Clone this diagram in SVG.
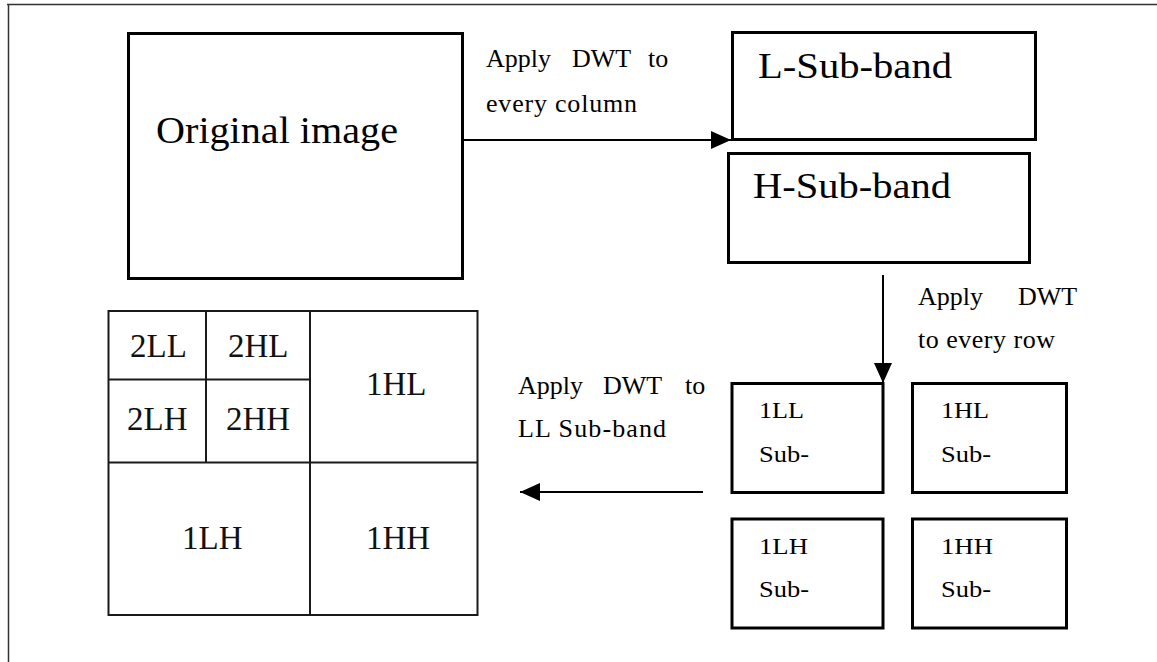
<svg xmlns="http://www.w3.org/2000/svg" width="1157" height="662" viewBox="0 0 1157 662" font-family="'Liberation Serif', 'Times New Roman', Times, serif">
  <style>
    .box { fill: #fff; stroke: #000; stroke-width: 3; }
    .grid { fill: none; stroke: #1a1a1a; stroke-width: 2; }
    .frame { fill: none; stroke: #333; stroke-width: 1.5; }
    .conn { fill: none; stroke: #000; stroke-width: 2; }
    text { fill: #000; }
    .lbl { font-size: 26px; }
    .big { font-size: 38px; }
    .sub { font-size: 36px; }
    .small { font-size: 24px; }
    .gt { font-size: 33px; fill: #111; }
  </style>
  <defs>
    <marker id="arrow" viewBox="0 0 20 18" refX="20" refY="9" markerWidth="20" markerHeight="18" markerUnits="userSpaceOnUse" orient="auto">
      <path d="M0,0 L20,9 L0,18 z" fill="#000"/>
    </marker>
  </defs>

  <g id="frame">
    <path class="frame" d="M7,4.5 H1157 M8.5,4 V662"/>
  </g>

  <g id="original-image">
    <rect class="box" x="128.5" y="33.5" width="334" height="245"/>
    <text class="big" x="156" y="143" textLength="242" lengthAdjust="spacingAndGlyphs">Original image</text>
  </g>

  <g id="l-subband">
    <rect class="box" x="732.5" y="32.5" width="303" height="107"/>
    <text class="sub" x="758" y="78" textLength="194" lengthAdjust="spacingAndGlyphs">L-Sub-band</text>
  </g>

  <g id="h-subband">
    <rect class="box" x="728.5" y="153.5" width="301" height="109"/>
    <text class="sub" x="753" y="198" textLength="198" lengthAdjust="spacingAndGlyphs">H-Sub-band</text>
  </g>

  <g id="sb-1ll">
    <rect class="box" x="732" y="383.5" width="151" height="109"/>
    <text class="small" x="759" y="418" textLength="45" lengthAdjust="spacingAndGlyphs">1LL</text>
    <text class="small" x="759" y="462" textLength="50" lengthAdjust="spacingAndGlyphs">Sub-</text>
  </g>
  <g id="sb-1hl">
    <rect class="box" x="912.5" y="383.5" width="154" height="109"/>
    <text class="small" x="941" y="418" textLength="48" lengthAdjust="spacingAndGlyphs">1HL</text>
    <text class="small" x="941" y="462" textLength="50" lengthAdjust="spacingAndGlyphs">Sub-</text>
  </g>
  <g id="sb-1lh">
    <rect class="box" x="732" y="519" width="151" height="109"/>
    <text class="small" x="759" y="554" textLength="49" lengthAdjust="spacingAndGlyphs">1LH</text>
    <text class="small" x="759" y="597" textLength="50" lengthAdjust="spacingAndGlyphs">Sub-</text>
  </g>
  <g id="sb-1hh">
    <rect class="box" x="912.5" y="519" width="154" height="109"/>
    <text class="small" x="941" y="554" textLength="52" lengthAdjust="spacingAndGlyphs">1HH</text>
    <text class="small" x="941" y="597" textLength="50" lengthAdjust="spacingAndGlyphs">Sub-</text>
  </g>

  <g id="level2-grid">
    <rect class="grid" x="108.5" y="311" width="369" height="304"/>
    <path class="grid" d="M310,311 V615 M108.5,462.5 H477.5 M206,311 V462.5 M108.5,379.5 H310"/>
    <text class="gt" x="130" y="357">2LL</text>
    <text class="gt" x="228" y="357">2HL</text>
    <text class="gt" x="127" y="430">2LH</text>
    <text class="gt" x="226" y="430">2HH</text>
    <text class="gt" x="366" y="395">1HL</text>
    <text class="gt" x="182" y="549">1LH</text>
    <text class="gt" x="366" y="549">1HH</text>
  </g>

  <g id="connectors">
    <line class="conn" x1="463" y1="140" x2="731" y2="140" marker-end="url(#arrow)"/>
    <line class="conn" x1="883" y1="275" x2="883" y2="383" marker-end="url(#arrow)"/>
    <line class="conn" x1="703" y1="492" x2="520" y2="492" marker-end="url(#arrow)"/>
  </g>

  <g id="labels">
    <text class="lbl" y="67"><tspan x="486">Apply</tspan><tspan x="572">DWT</tspan><tspan x="648">to</tspan></text>
    <text class="lbl" x="486" y="112" textLength="151">every column</text>
    <text class="lbl" y="305"><tspan x="918">Apply</tspan><tspan x="1018">DWT</tspan></text>
    <text class="lbl" x="918" y="348" textLength="137">to every row</text>
    <text class="lbl" y="394"><tspan x="518">Apply</tspan><tspan x="603">DWT</tspan><tspan x="685">to</tspan></text>
    <text class="lbl" x="518" y="437" textLength="148">LL Sub-band</text>
  </g>
</svg>
